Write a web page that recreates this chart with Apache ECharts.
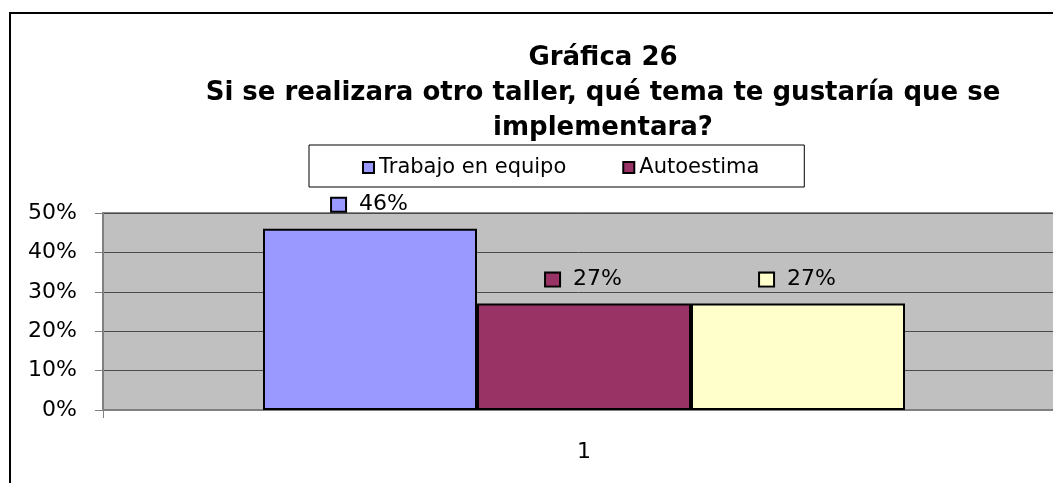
<!DOCTYPE html>
<html>
<head>
<meta charset="utf-8">
<script src="https://cdn.jsdelivr.net/npm/echarts@6/dist/echarts.min.js"></script>
<style>
  html, body { margin: 0; padding: 0; background: #fff; }
  #main { width: 1053px; height: 483px; }
</style>
</head>
<body>
<div id="main"></div>
<script>
// datos de la grafica
var categorias = ['1'];
var nombres = ['Trabajo en equipo', 'Autoestima', 'Otro'];
var valores = [[0.46], [0.27], [0.27]];
var colores = ['#9999FF', '#993366', '#FFFFCC'];

var myChart = echarts.init(document.getElementById('main'));

var pct = function (v) { return Math.round(v * 100) + '%'; };

var series = nombres.map(function (n, i) {
    return {
        name: n,
        type: 'bar',
        barWidth: 214,
        barGap: 0,
        data: valores[i],
        itemStyle: { color: colores[i], borderColor: '#000', borderWidth: 2 },
        label: {
            show: true,
            position: 'top',
            distance: 13,
            formatter: function (p) { return '{k|}  ' + pct(p.value); },
            fontFamily: 'DejaVu Sans',
            fontSize: 22,
            color: '#000',
            rich: {
                k: {
                    width: 13, height: 12,
                    backgroundColor: colores[i],
                    borderColor: '#000', borderWidth: 2
                }
            }
        }
    };
});

var option = {
    animation: false,
    backgroundColor: '#fff',
    graphic: [{
        type: 'rect',
        z: -10,
        shape: { x: 10, y: 13, width: 1200, height: 600 },
        style: { fill: 'none', stroke: '#000', lineWidth: 2 }
    }],
    title: {
        text: 'Gráfica 26\nSi se realizara otro taller, qué tema te gustaría que se\nimplementara?',
        left: 598,
        top: 36,
        textAlign: 'center',
        textStyle: {
            fontFamily: 'DejaVu Sans',
            fontWeight: 'bold',
            fontSize: 26,
            lineHeight: 35,
            color: '#000'
        }
    },
    legend: {
        data: ['Trabajo en equipo', 'Autoestima'],
        left: 309,
        top: 145,
        padding: [12, 45, 9, 53],
        itemGap: 56,
        itemWidth: 11,
        itemHeight: 11,
        icon: 'rect',
        backgroundColor: '#fff',
        borderColor: '#000',
        borderWidth: 1,
        borderRadius: 0,
        textStyle: { fontFamily: 'DejaVu Sans', fontSize: 21, color: '#000' }
    },
    grid: {
        left: 103,
        top: 213,
        width: 962,
        height: 197,
        outerBoundsMode: 'none',
        show: true,
        backgroundColor: '#C0C0C0',
        borderColor: '#8c8c8c',
        borderWidth: 2
    },
    xAxis: {
        type: 'category',
        data: categorias,
        axisLine: { show: true, lineStyle: { color: '#808080', width: 2 } },
        axisTick: { show: true, length: 8, lineStyle: { color: '#808080' } },
        axisLabel: { margin: 31, fontFamily: 'DejaVu Sans', fontSize: 22, color: '#000' }
    },
    yAxis: {
        type: 'value',
        min: 0,
        max: 0.5,
        interval: 0.1,
        axisLine: { show: true, lineStyle: { color: '#808080', width: 2 } },
        axisTick: { show: true, length: 8, lineStyle: { color: '#808080' } },
        splitLine: { show: true, lineStyle: { color: '#4a4a4a', width: 1 } },
        axisLabel: {
            margin: 26,
            fontFamily: 'DejaVu Sans',
            fontSize: 22,
            color: '#000',
            formatter: pct
        }
    },
    series: series
};

myChart.setOption(option);
</script>
</body>
</html>
